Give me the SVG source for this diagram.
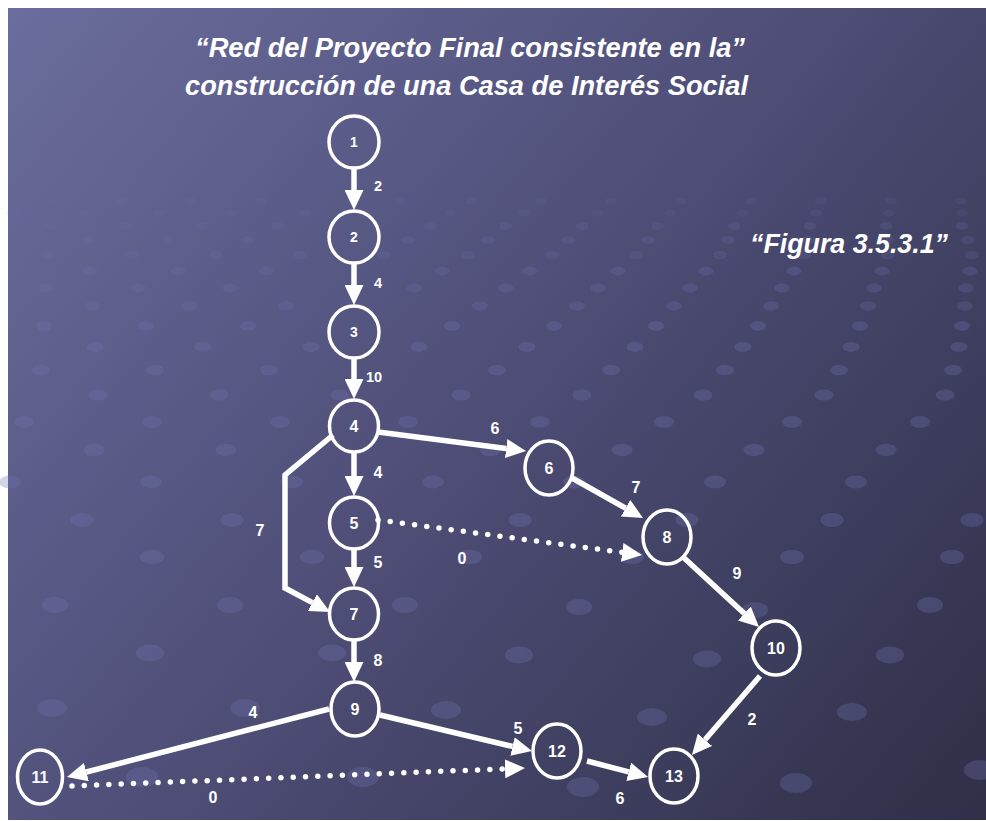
<svg xmlns="http://www.w3.org/2000/svg" width="986" height="821" viewBox="0 0 986 821">
<defs>
<linearGradient id="bg" gradientUnits="userSpaceOnUse" x1="8" y1="8" x2="986" y2="821">
<stop offset="0" stop-color="#6b6d9e"/>
<stop offset="0.5" stop-color="#4d4d76"/>
<stop offset="1" stop-color="#2f2f48"/>
</linearGradient>
<marker id="ah" markerUnits="userSpaceOnUse" markerWidth="20" markerHeight="19" viewBox="0 0 20 19" refX="0" refY="9.5" orient="auto">
<path d="M0,0 L20,9.5 L0,19 z" fill="#fff"/>
</marker>
<style>
.edge{fill:none;stroke:#fff;stroke-width:5.5;marker-end:url(#ah)}
.dot{stroke-dasharray:0 12.3;stroke-linecap:round}
.node ellipse{fill:none;stroke:#fff;stroke-width:3.5}
.node text{fill:#fff;font-family:"Liberation Sans",Arial,sans-serif;font-weight:bold;font-size:16px;text-anchor:middle}
.node.sm text{font-size:14px}
.lbl{fill:#fff;font-family:"Liberation Sans",Arial,sans-serif;font-weight:bold;font-size:16px;text-anchor:middle}
.lbl.sm{font-size:14.5px}
.title{fill:#fff;font-family:"Liberation Sans",Arial,sans-serif;font-weight:bold;font-style:italic;font-size:27px}
.bgd ellipse{fill:#7275ae;fill-opacity:.3}
</style>
</defs>
<rect x="0" y="0" width="986" height="821" fill="#fff"/>
<rect x="8" y="8" width="978" height="812" fill="url(#bg)"/>
<g class="bgd" id="background-dots">
<g opacity="0.45">
<ellipse cx="51" cy="201" rx="6" ry="3.5"/><ellipse cx="121" cy="201" rx="6" ry="3.5"/><ellipse cx="191" cy="201" rx="6" ry="3.5"/><ellipse cx="261" cy="201" rx="6" ry="3.5"/><ellipse cx="401" cy="201" rx="6" ry="3.5"/><ellipse cx="471" cy="201" rx="6" ry="3.5"/><ellipse cx="541" cy="201" rx="6" ry="3.5"/><ellipse cx="611" cy="201" rx="6" ry="3.5"/><ellipse cx="681" cy="201" rx="6" ry="3.5"/><ellipse cx="751" cy="201" rx="6" ry="3.5"/><ellipse cx="821" cy="201" rx="6" ry="3.5"/><ellipse cx="891" cy="201" rx="6" ry="3.5"/><ellipse cx="961" cy="201" rx="6" ry="3.5"/>
<ellipse cx="13" cy="213" rx="6" ry="3.6"/><ellipse cx="86" cy="213" rx="6" ry="3.6"/><ellipse cx="159" cy="213" rx="6" ry="3.6"/><ellipse cx="232" cy="213" rx="6" ry="3.6"/><ellipse cx="305" cy="213" rx="6" ry="3.6"/><ellipse cx="451" cy="213" rx="6" ry="3.6"/><ellipse cx="524" cy="213" rx="6" ry="3.6"/><ellipse cx="597" cy="213" rx="6" ry="3.6"/><ellipse cx="670" cy="213" rx="6" ry="3.6"/><ellipse cx="743" cy="213" rx="6" ry="3.6"/><ellipse cx="816" cy="213" rx="6" ry="3.6"/><ellipse cx="889" cy="213" rx="6" ry="3.6"/><ellipse cx="962" cy="213" rx="6" ry="3.6"/>
</g>
<g opacity="0.65">
<ellipse cx="50" cy="226" rx="6.5" ry="3.8"/><ellipse cx="126" cy="226" rx="6.5" ry="3.8"/><ellipse cx="202" cy="226" rx="6.5" ry="3.8"/><ellipse cx="278" cy="226" rx="6.5" ry="3.8"/><ellipse cx="430" cy="226" rx="6.5" ry="3.8"/><ellipse cx="506" cy="226" rx="6.5" ry="3.8"/><ellipse cx="582" cy="226" rx="6.5" ry="3.8"/><ellipse cx="658" cy="226" rx="6.5" ry="3.8"/><ellipse cx="734" cy="226" rx="6.5" ry="3.8"/><ellipse cx="810" cy="226" rx="6.5" ry="3.8"/><ellipse cx="886" cy="226" rx="6.5" ry="3.8"/><ellipse cx="962" cy="226" rx="6.5" ry="3.8"/>
<ellipse cx="88" cy="240" rx="7" ry="4"/><ellipse cx="168" cy="240" rx="7" ry="4"/><ellipse cx="248" cy="240" rx="7" ry="4"/><ellipse cx="408" cy="240" rx="7" ry="4"/><ellipse cx="488" cy="240" rx="7" ry="4"/><ellipse cx="568" cy="240" rx="7" ry="4"/><ellipse cx="648" cy="240" rx="7" ry="4"/><ellipse cx="728" cy="240" rx="7" ry="4"/><ellipse cx="808" cy="240" rx="7" ry="4"/><ellipse cx="888" cy="240" rx="7" ry="4"/><ellipse cx="968" cy="240" rx="7" ry="4"/>
<ellipse cx="48" cy="255" rx="7" ry="4.2"/><ellipse cx="132" cy="255" rx="7" ry="4.2"/><ellipse cx="216" cy="255" rx="7" ry="4.2"/><ellipse cx="300" cy="255" rx="7" ry="4.2"/><ellipse cx="384" cy="255" rx="7" ry="4.2"/><ellipse cx="468" cy="255" rx="7" ry="4.2"/><ellipse cx="552" cy="255" rx="7" ry="4.2"/><ellipse cx="636" cy="255" rx="7" ry="4.2"/><ellipse cx="720" cy="255" rx="7" ry="4.2"/><ellipse cx="804" cy="255" rx="7" ry="4.2"/><ellipse cx="888" cy="255" rx="7" ry="4.2"/><ellipse cx="972" cy="255" rx="7" ry="4.2"/>
</g>
<g opacity="0.85">
<ellipse cx="90" cy="271" rx="7.5" ry="4.4"/><ellipse cx="178" cy="271" rx="7.5" ry="4.4"/><ellipse cx="266" cy="271" rx="7.5" ry="4.4"/><ellipse cx="442" cy="271" rx="7.5" ry="4.4"/><ellipse cx="530" cy="271" rx="7.5" ry="4.4"/><ellipse cx="618" cy="271" rx="7.5" ry="4.4"/><ellipse cx="706" cy="271" rx="7.5" ry="4.4"/><ellipse cx="794" cy="271" rx="7.5" ry="4.4"/><ellipse cx="882" cy="271" rx="7.5" ry="4.4"/><ellipse cx="970" cy="271" rx="7.5" ry="4.4"/>
<ellipse cx="46" cy="288" rx="7.5" ry="4.5"/><ellipse cx="138" cy="288" rx="7.5" ry="4.5"/><ellipse cx="230" cy="288" rx="7.5" ry="4.5"/><ellipse cx="414" cy="288" rx="7.5" ry="4.5"/><ellipse cx="506" cy="288" rx="7.5" ry="4.5"/><ellipse cx="598" cy="288" rx="7.5" ry="4.5"/><ellipse cx="690" cy="288" rx="7.5" ry="4.5"/><ellipse cx="782" cy="288" rx="7.5" ry="4.5"/><ellipse cx="874" cy="288" rx="7.5" ry="4.5"/><ellipse cx="966" cy="288" rx="7.5" ry="4.5"/>
<ellipse cx="92" cy="306" rx="8" ry="4.7"/><ellipse cx="189" cy="306" rx="8" ry="4.7"/><ellipse cx="286" cy="306" rx="8" ry="4.7"/><ellipse cx="480" cy="306" rx="8" ry="4.7"/><ellipse cx="577" cy="306" rx="8" ry="4.7"/><ellipse cx="674" cy="306" rx="8" ry="4.7"/><ellipse cx="771" cy="306" rx="8" ry="4.7"/><ellipse cx="868" cy="306" rx="8" ry="4.7"/><ellipse cx="965" cy="306" rx="8" ry="4.7"/>
</g>
<ellipse cx="44" cy="326" rx="8" ry="4.8"/><ellipse cx="146" cy="326" rx="8" ry="4.8"/><ellipse cx="248" cy="326" rx="8" ry="4.8"/><ellipse cx="452" cy="326" rx="8" ry="4.8"/><ellipse cx="554" cy="326" rx="8" ry="4.8"/><ellipse cx="656" cy="326" rx="8" ry="4.8"/><ellipse cx="758" cy="326" rx="8" ry="4.8"/><ellipse cx="860" cy="326" rx="8" ry="4.8"/><ellipse cx="962" cy="326" rx="8" ry="4.8"/>
<ellipse cx="95" cy="347" rx="8.5" ry="5"/><ellipse cx="203" cy="347" rx="8.5" ry="5"/><ellipse cx="311" cy="347" rx="8.5" ry="5"/><ellipse cx="419" cy="347" rx="8.5" ry="5"/><ellipse cx="527" cy="347" rx="8.5" ry="5"/><ellipse cx="635" cy="347" rx="8.5" ry="5"/><ellipse cx="743" cy="347" rx="8.5" ry="5"/><ellipse cx="851" cy="347" rx="8.5" ry="5"/><ellipse cx="959" cy="347" rx="8.5" ry="5"/>
<ellipse cx="41" cy="370" rx="9" ry="5.3"/><ellipse cx="155" cy="370" rx="9" ry="5.3"/><ellipse cx="269" cy="370" rx="9" ry="5.3"/><ellipse cx="497" cy="370" rx="9" ry="5.3"/><ellipse cx="611" cy="370" rx="9" ry="5.3"/><ellipse cx="725" cy="370" rx="9" ry="5.3"/><ellipse cx="839" cy="370" rx="9" ry="5.3"/><ellipse cx="953" cy="370" rx="9" ry="5.3"/>
<ellipse cx="98" cy="395" rx="9.5" ry="5.6"/><ellipse cx="219" cy="395" rx="9.5" ry="5.6"/><ellipse cx="340" cy="395" rx="9.5" ry="5.6"/><ellipse cx="461" cy="395" rx="9.5" ry="5.6"/><ellipse cx="582" cy="395" rx="9.5" ry="5.6"/><ellipse cx="703" cy="395" rx="9.5" ry="5.6"/><ellipse cx="824" cy="395" rx="9.5" ry="5.6"/><ellipse cx="945" cy="395" rx="9.5" ry="5.6"/>
<ellipse cx="24" cy="422" rx="10" ry="6"/><ellipse cx="152" cy="422" rx="10" ry="6"/><ellipse cx="280" cy="422" rx="10" ry="6"/><ellipse cx="408" cy="422" rx="10" ry="6"/><ellipse cx="540" cy="422" rx="10" ry="6"/><ellipse cx="664" cy="422" rx="10" ry="6"/><ellipse cx="792" cy="422" rx="10" ry="6"/><ellipse cx="920" cy="422" rx="10" ry="6"/>
<ellipse cx="94" cy="450" rx="10.5" ry="6.2"/><ellipse cx="226" cy="450" rx="10.5" ry="6.2"/><ellipse cx="490" cy="450" rx="10.5" ry="6.2"/><ellipse cx="622" cy="450" rx="10.5" ry="6.2"/><ellipse cx="754" cy="450" rx="10.5" ry="6.2"/><ellipse cx="886" cy="450" rx="10.5" ry="6.2"/>
<ellipse cx="10" cy="482" rx="11" ry="6.5"/><ellipse cx="151" cy="482" rx="11" ry="6.5"/><ellipse cx="292" cy="482" rx="11" ry="6.5"/><ellipse cx="433" cy="482" rx="11" ry="6.5"/><ellipse cx="574" cy="482" rx="11" ry="6.5"/><ellipse cx="715" cy="482" rx="11" ry="6.5"/><ellipse cx="856" cy="482" rx="11" ry="6.5"/>
<ellipse cx="82" cy="520" rx="11.5" ry="7"/><ellipse cx="232" cy="520" rx="11.5" ry="7"/><ellipse cx="520" cy="520" rx="11.5" ry="7"/><ellipse cx="687" cy="520" rx="11.5" ry="7"/><ellipse cx="832" cy="520" rx="11.5" ry="7"/><ellipse cx="972" cy="520" rx="11.5" ry="7"/>
<ellipse cx="152" cy="557" rx="12" ry="7.3"/><ellipse cx="312" cy="557" rx="12" ry="7.3"/><ellipse cx="470" cy="557" rx="12" ry="7.3"/><ellipse cx="632" cy="557" rx="12" ry="7.3"/><ellipse cx="792" cy="557" rx="12" ry="7.3"/><ellipse cx="952" cy="557" rx="12" ry="7.3"/>
<ellipse cx="55" cy="605" rx="13" ry="8"/><ellipse cx="230" cy="605" rx="13" ry="8"/><ellipse cx="405" cy="605" rx="13" ry="8"/><ellipse cx="579" cy="607" rx="13" ry="8"/><ellipse cx="755" cy="610" rx="13" ry="8"/><ellipse cx="930" cy="605" rx="13" ry="8"/>
<ellipse cx="150" cy="653" rx="14" ry="8.5"/><ellipse cx="332" cy="653" rx="14" ry="8.5"/><ellipse cx="519" cy="655" rx="14" ry="8.5"/><ellipse cx="707" cy="659" rx="14" ry="8.5"/><ellipse cx="890" cy="655" rx="14" ry="8.5"/>
<ellipse cx="52" cy="708" rx="15" ry="9"/><ellipse cx="245" cy="708" rx="15" ry="9"/><ellipse cx="446" cy="710" rx="15" ry="9"/><ellipse cx="652" cy="717" rx="15" ry="9"/><ellipse cx="852" cy="712" rx="15" ry="9"/>
<ellipse cx="142" cy="777" rx="16" ry="10"/><ellipse cx="363" cy="777" rx="16" ry="10"/><ellipse cx="583" cy="787" rx="16" ry="10"/><ellipse cx="796" cy="783" rx="16" ry="10"/><ellipse cx="980" cy="770" rx="16" ry="10"/>
</g>
<text class="title" x="195" y="57" textLength="550" lengthAdjust="spacingAndGlyphs">“Red del Proyecto Final consistente en la”</text>
<text class="title" x="185" y="95" textLength="563" lengthAdjust="spacingAndGlyphs">construcción de una Casa de Interés Social</text>
<text class="title" x="750" y="253" textLength="198" lengthAdjust="spacingAndGlyphs">“Figura 3.5.3.1”</text>
<g id="connectors">
<line class="edge" x1="354" y1="168" x2="354" y2="190"/>
<line class="edge" x1="354" y1="263" x2="354" y2="285"/>
<line class="edge" x1="354" y1="358" x2="354" y2="379"/>
<line class="edge" x1="354" y1="452" x2="354" y2="476"/>
<line class="edge" x1="354" y1="549" x2="354" y2="567"/>
<line class="edge" x1="354" y1="640" x2="354" y2="662"/>
<line class="edge" x1="378" y1="432" x2="506.2" y2="448.5"/>
<polyline class="edge" points="333,435 285,475 285,588 312.4,602.6"/>
<line class="edge dot" x1="378" y1="520" x2="622.2" y2="552.4"/>
<line class="edge" x1="572" y1="478" x2="625.6" y2="508.2"/>
<line class="edge" x1="683" y1="557" x2="744.3" y2="613.4"/>
<line class="edge" x1="760" y1="676" x2="705" y2="739.8"/>
<line class="edge" x1="329" y1="709" x2="86.4" y2="772"/>
<line class="edge" x1="380" y1="715" x2="512.5" y2="746.4"/>
<line class="edge" x1="587" y1="761" x2="628.7" y2="771.9"/>
<line class="edge dot" x1="72" y1="786" x2="505" y2="768.8"/>
<text class="lbl sm" x="378" y="191">2</text>
<text class="lbl sm" x="378" y="288">4</text>
<text class="lbl sm" x="374" y="382">10</text>
<text class="lbl" x="495" y="434">6</text>
<text class="lbl" x="378" y="478">4</text>
<text class="lbl" x="636" y="493">7</text>
<text class="lbl" x="260" y="536">7</text>
<text class="lbl" x="378" y="568">5</text>
<text class="lbl" x="462" y="564">0</text>
<text class="lbl" x="737" y="579">9</text>
<text class="lbl" x="378" y="666">8</text>
<text class="lbl" x="253" y="718">4</text>
<text class="lbl" x="518" y="734">5</text>
<text class="lbl" x="752" y="725">2</text>
<text class="lbl" x="620" y="804">6</text>
<text class="lbl" x="213" y="803">0</text>
</g>
<g id="n1" class="node sm"><ellipse cx="354" cy="142" rx="25" ry="26"/><text x="354" y="147">1</text></g>
<g id="n2" class="node sm"><ellipse cx="354" cy="237" rx="25" ry="26"/><text x="354" y="242">2</text></g>
<g id="n3" class="node sm"><ellipse cx="354" cy="332" rx="25" ry="26"/><text x="354" y="337">3</text></g>
<g id="n4" class="node"><ellipse cx="354" cy="426" rx="24.5" ry="26"/><text x="354" y="432">4</text></g>
<g id="n5" class="node"><ellipse cx="354" cy="523" rx="24.5" ry="26"/><text x="354" y="529">5</text></g>
<g id="n6" class="node"><ellipse cx="549" cy="468" rx="24" ry="27"/><text x="549" y="474">6</text></g>
<g id="n7" class="node"><ellipse cx="354" cy="614" rx="24.5" ry="26"/><text x="354" y="620">7</text></g>
<g id="n8" class="node"><ellipse cx="667" cy="537" rx="24" ry="27"/><text x="667" y="543">8</text></g>
<g id="n9" class="node"><ellipse cx="355" cy="709" rx="24" ry="27"/><text x="355" y="715">9</text></g>
<g id="n10" class="node"><ellipse cx="776" cy="648" rx="24" ry="27"/><text x="776" y="654">10</text></g>
<g id="n11" class="node"><ellipse cx="40" cy="777" rx="22.5" ry="27"/><text x="40" y="783">11</text></g>
<g id="n12" class="node"><ellipse cx="557" cy="751" rx="24" ry="27"/><text x="557" y="757">12</text></g>
<g id="n13" class="node"><ellipse cx="674" cy="776" rx="24" ry="27"/><text x="674" y="782">13</text></g>
</svg>
